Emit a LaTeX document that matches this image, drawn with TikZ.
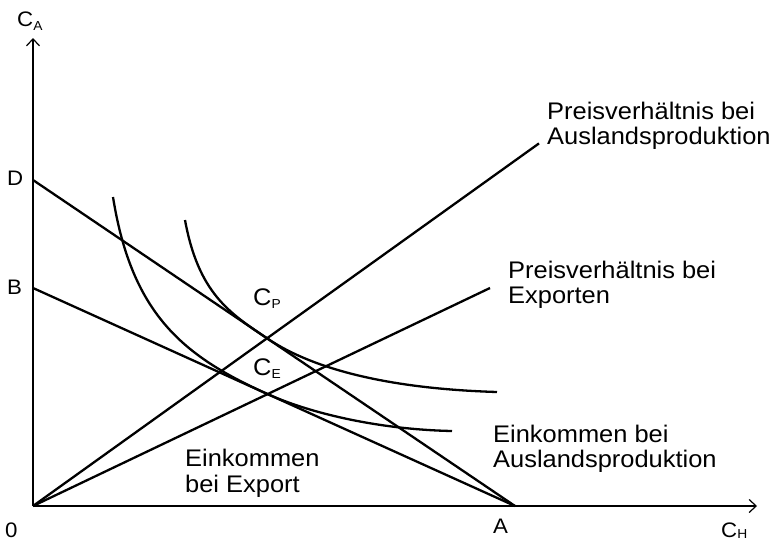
\documentclass[tikz,border=0pt]{standalone}
\usepackage{fontspec}
\setmainfont{Liberation Sans}[FakeStretch=1.06]
\usetikzlibrary{arrows.meta}
\begin{document}
\begin{tikzpicture}[x=1pt,y=-1pt,
  axis/.style={line width=1.3pt, -{Straight Barb[length=7pt,width=13pt,line width=1.2pt]}},
  ln/.style={line width=2.3pt},
  crv/.style={line width=2.3pt},
  lbl/.style={inner sep=0pt, anchor=base west, font=\fontsize{24}{25}\selectfont},
  axl/.style={inner sep=0pt, anchor=base west, font=\fontsize{21}{21}\selectfont}]
\useasboundingbox (0,0) rectangle (773,546);
\newcommand{\subl}[2][-3pt]{\raisebox{#1}{\fontsize{13}{13}\selectfont #2}}
% key points
\coordinate (O) at (33,506);
\coordinate (Yt) at (33,38);
\coordinate (Xe) at (757,506);
\coordinate (D) at (33,180);
\coordinate (B) at (33,288);
\coordinate (A) at (515,506);
\coordinate (R1) at (539,143.4);
\coordinate (R2) at (490,288);
\coordinate (TP) at (267,338.3);
\coordinate (TE) at (267,393.8);
\coordinate (c2s) at (185,220);
\coordinate (c2e) at (497,392);
\coordinate (c1s) at (113,197);
\coordinate (c1e) at (452,431);
% axes
\draw[axis] (O) -- (Yt);
\draw[axis] (O) -- (Xe);
% budget lines
\draw[ln] (D) -- (A);
\draw[ln] (B) -- (A);
% price rays
\draw[ln] (O) -- (R1);
\draw[ln] (O) -- (R2);
% indifference curves
\draw[crv] (c2s) .. controls (198.5,293.5) and (229.7,313.1) .. (TP)
  .. controls (316.7,371.8) and (397,389) .. (c2e);
\draw[crv] (c1s) .. controls (132,316) and (185,356.7) .. (TE)
  .. controls (312.6,414.4) and (382,429.6) .. (c1e);
% axis labels
\node[axl] (lCA) at (17,27) {C\subl{A}};
\node[axl] (lD) at (7,185) {D};
\node[axl] (lB) at (7,294) {B};
\node[axl] (l0) at (5,537) {0};
\node[axl] (lA) at (493,533) {A};
\node[axl] (lCH) at (721,537) {C\subl[-1.5pt]{H}};
\node[lbl] (lCP) at (253,305) {C\subl{P}};
\node[lbl] (lCE) at (253,375) {C\subl{E}};
% text labels
\node[lbl] (t1a) at (547,119) {Preisverhältnis bei};
\node[lbl] (t1b) at (547,144) {Auslandsproduktion};
\node[lbl] (t2a) at (508,278) {Preisverhältnis bei};
\node[lbl] (t2b) at (508,303) {Exporten};
\node[lbl] (t3a) at (493,442) {Einkommen bei};
\node[lbl] (t3b) at (493,467) {Auslandsproduktion};
\node[lbl] (t4a) at (185,466) {Einkommen};
\node[lbl] (t4b) at (185,492) {bei Export};
\end{tikzpicture}
\end{document}
